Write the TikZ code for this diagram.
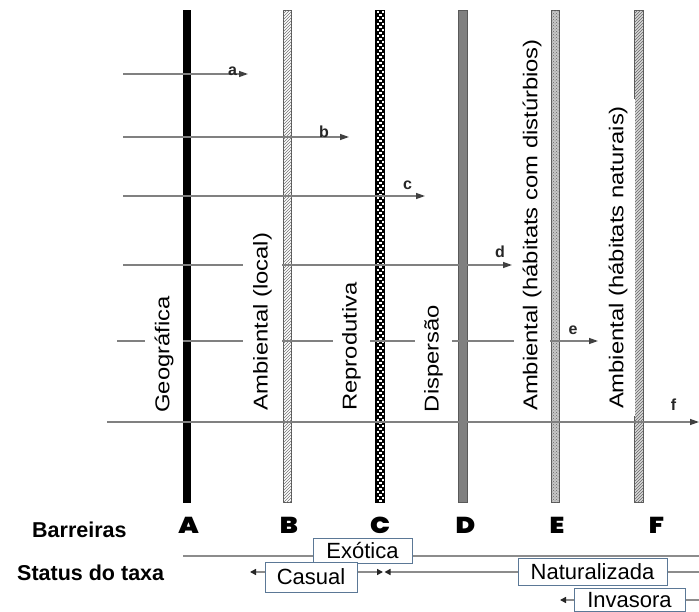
\documentclass[tikz,border=0pt]{standalone}
\usepackage{graphicx}
\usepackage{fontspec}
\setmainfont{Liberation Sans}
\IfFontExistsTF{Poppins Black}
  {\newfontfamily\heavyfont{Poppins Black}\newcommand\heavysel{\heavyfont}}
  {\IfFontExistsTF{Poppins ExtraBold}
     {\newfontfamily\heavyfont{Poppins ExtraBold}\newcommand\heavysel{\heavyfont}}
     {\newfontfamily\heavyfont{DejaVu Sans}\newcommand\heavysel{\heavyfont\bfseries}}}
\usetikzlibrary{arrows.meta,patterns}
\definecolor{boxedge}{HTML}{5B7896}
\tikzset{
  flow/.style={draw=black!50, line width=1.3pt, -{Triangle[length=9pt,width=6pt,color=black!75]}},
  flowlabel/.style={font=\bfseries\fontsize{16}{16}\selectfont, inner sep=0pt, anchor=base, text=black!85},
  barlabel/.style={rotate=90, fill=white, inner xsep=7pt, inner ysep=0pt, font=\fontsize{20}{20}\selectfont},
  statline/.style={draw=black!45, line width=1.8pt},
  stattip/.style={statline, -{Triangle[length=6pt,width=6pt,color=black!85]}},
  statbox/.style={draw=boxedge, fill=white, line width=1pt, inner sep=0pt, font=\fontsize{22}{22}\selectfont},
  bigletter/.style={font=\heavysel\fontsize{23}{23}\selectfont, anchor=base, inner sep=0pt},
  rowlabel/.style={font=\bfseries\fontsize{21.5}{21.5}\selectfont, anchor=base west, inner sep=0pt},
  barline/.style={draw=black!65, line width=0.8pt}
}
\begin{document}
\begin{tikzpicture}[x=1pt,y=-1pt]
\useasboundingbox (0,0) rectangle (699,612);
\clip (0,0) rectangle (699,612);
\fill[white] (0,0) rectangle (699,612);

% ---- barriers ----
% A
\fill[black] (183,10) rectangle (191,503);
% B
\filldraw[barline, fill=white] (283.4,10.4) rectangle (291.6,502.6);
\fill[pattern=north east lines, pattern color=black!55] (283.4,10.4) rectangle (291.6,502.6);
% C
\filldraw[fill=black, draw=black] (375.5,10.5) rectangle (384.5,502.5);
\foreach \j in {0,...,81}{
  \fill[white] (376.5,{11+6*\j}) rectangle +(2.4,2.4);
  \fill[white] (382,{11+6*\j}) rectangle +(2,2.4);
  \fill[white] (379.3,{14+6*\j}) rectangle +(2.4,2.4);
}
% D
\filldraw[barline, fill=black!50] (458.4,10.4) rectangle (467.6,502.6);
% E
\filldraw[barline, fill=black!22] (551.4,10.4) rectangle (559.6,502.6);
\fill[pattern=crosshatch dots, pattern color=black!60] (551.4,10.4) rectangle (559.6,502.6);
% F
\filldraw[barline, fill=black!15] (634.4,10.4) rectangle (643.6,502.6);
\fill[pattern=north east lines, pattern color=black!60] (634.4,10.4) rectangle (643.6,502.6);

% ---- pathways a-f ----
\coordinate (a0) at (123,74);  \coordinate (a1) at (248,74);
\coordinate (b0) at (123,137); \coordinate (b1) at (349,137);
\coordinate (c0) at (123,196); \coordinate (c1) at (425,196);
\coordinate (d0) at (123,265); \coordinate (d1) at (512,265);
\coordinate (e0) at (117,341); \coordinate (e1) at (598,341);
\coordinate (f0) at (107,422); \coordinate (f1) at (699,422);
\draw[flow] (a0) -- (a1);
\draw[flow] (b0) -- (b1);
\draw[flow] (c0) -- (c1);
\draw[flow] (d0) -- (d1);
\draw[flow] (e0) -- (e1);
\draw[flow] (f0) -- (f1);

% ---- barrier names (rotated, white backing) ----
\node[barlabel, minimum height=38pt] (lgeo)  at (164,354.5) {\scalebox{1.19}[1]{Geográfica}};
\node[barlabel, minimum height=39pt] (lambl) at (262.5,321.5) {\scalebox{1.19}[1]{Ambiental (local)}};
\node[barlabel, minimum height=37pt] (lrep)  at (351.5,346.5) {\scalebox{1.19}[1]{Reprodutiva}};
\node[barlabel, minimum height=37pt] (ldis)  at (433.5,358.5) {\scalebox{1.19}[1]{Dispersão}};
\node[barlabel, minimum height=36pt] (ldist) at (532,225) {\scalebox{1.19}[1]{Ambiental (hábitats com distúrbios)}};
\node[barlabel, minimum height=34pt] (lnat)  at (618,257.5) {\scalebox{1.19}[1]{Ambiental (hábitats naturais)}};

% ---- pathway letters ----
\node[flowlabel] (la) at (232.5,76) {a};
\node[flowlabel] (lb) at (324,138) {b};
\node[flowlabel] (lc) at (407.5,190) {c};
\node[flowlabel] (ld) at (500,258) {d};
\node[flowlabel] (le) at (573,335) {e};
\node[flowlabel] (lf) at (673.5,410) {f};

% ---- bottom rows ----
\node[rowlabel] (barr) at (32,537) {Barreiras};
\node[rowlabel] (stat) at (17,580) {Status do taxa};
\node[bigletter] (bA) at (188.5,533.5) {\scalebox{1.15}[1]{A}};
\node[bigletter] (bB) at (289,533.5) {\scalebox{1.15}[1]{B}};
\node[bigletter] (bC) at (380,533.5) {\scalebox{1.15}[1]{C}};
\node[bigletter] (bD) at (465.5,533.5) {\scalebox{1.15}[1]{D}};
\node[bigletter] (bE) at (557,533.5) {\scalebox{1.15}[1]{E}};
\node[bigletter] (bF) at (656.5,533.5) {\scalebox{1.15}[1]{F}};

% status lines
\coordinate (exL) at (183,556); \coordinate (exR) at (699,556);
\draw[statline] (exL) -- (exR);
\node[statbox, minimum width=99pt, minimum height=25pt] (exot) at (362.5,550.5) {Exótica};

\coordinate (casL) at (250,572);
\coordinate (midL) at (383,572);
\coordinate (midR) at (384.5,572);
\coordinate (natR) at (699,572);
\coordinate (invL) at (560,600);
\coordinate (invR) at (699,600);

\node[statbox, minimum width=92pt, minimum height=30pt] (casual) at (311,577) {Casual};
\node[statbox, minimum width=149pt, minimum height=27pt] (natur) at (592.5,571.5) {Naturalizada};
\node[statbox, minimum width=111pt, minimum height=23pt] (invas) at (629.5,600) {Invasora};

\draw[stattip] (casual.west |- casL) -- (casL);
\draw[stattip] (casual.east |- midL) -- (midL);
\draw[stattip] (natur.west |- midR) -- (midR);
\draw[statline] (natur.east |- natR) -- (natR);
\draw[stattip] (invas.west |- invL) -- (invL);
\draw[statline] (invas.east |- invR) -- (invR);
\end{tikzpicture}
\end{document}
